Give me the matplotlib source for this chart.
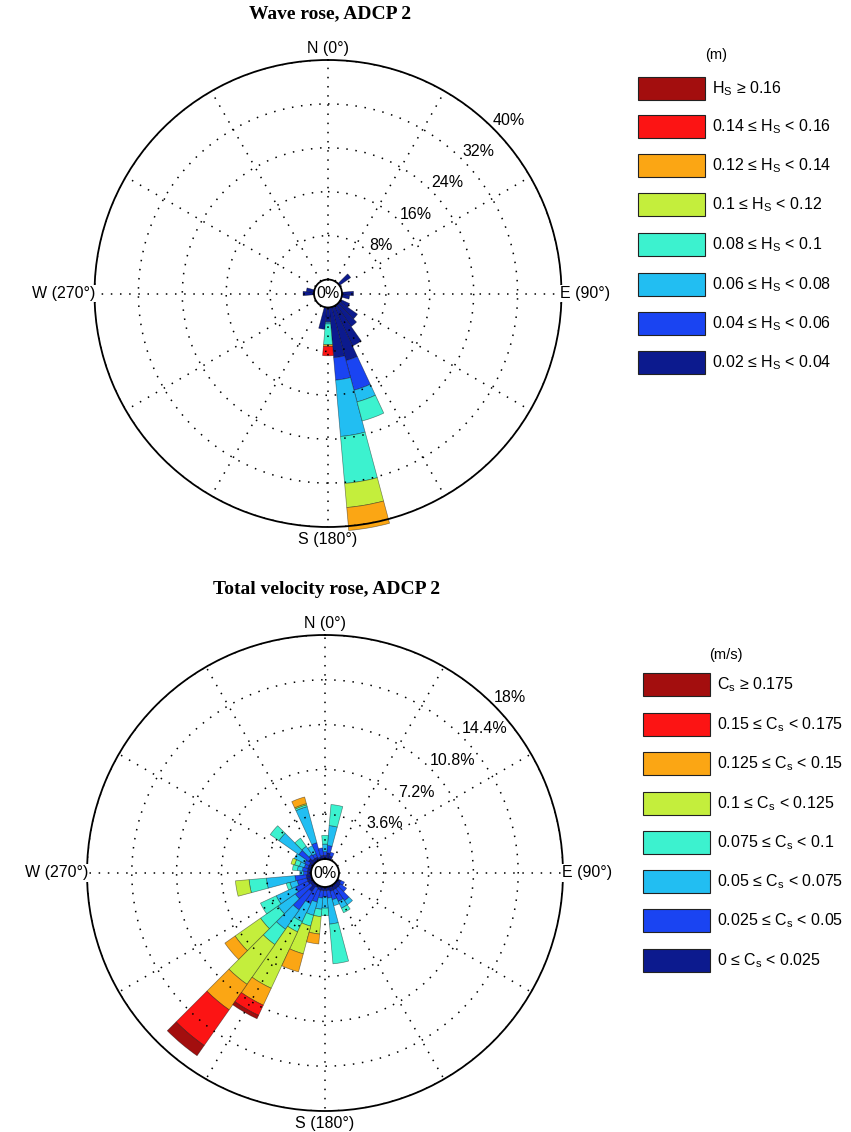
import matplotlib.pyplot as plt
from matplotlib.patches import Rectangle
import numpy as np

plt.rcParams['font.family'] = ['Liberation Sans', 'DejaVu Sans']
plt.rcParams['mathtext.fontset'] = 'custom'
plt.rcParams['mathtext.rm'] = 'Liberation Sans'

# class colours, lowest class first
colors = ['#0C1A8E', '#1A44F2', '#22BEF2', '#3CF2CF',
          '#C4EE3C', '#FBA614', '#FC1414', '#A30E0E']

# ---- wave rose, ADCP 2 : % of records per 10 deg sector and Hs class (m)
wave_dir = [50, 90, 100, 120, 130, 140, 150, 160, 170, 180, 190, 270, 280]
hs_002_004 = [2.5, 2.1, 1.4, 1.8, 4.0, 4.8, 8.0, 10.1, 9.2, 2.6, 4.0, 2.0, 1.4]
hs_004_006 = [0, 0, 0, 0, 0, 0, 0, 5.6, 4.1, 0.1, 0, 0, 0]
hs_006_008 = [0, 0, 0, 0, 0, 0, 0, 2.2, 10.3, 0.3, 0, 0, 0]
hs_008_010 = [0, 0, 0, 0, 0, 0, 0, 3.6, 8.6, 3.8, 0, 0, 0]
hs_010_012 = [0, 0, 0, 0, 0, 0, 0, 0, 4.4, 0, 0, 0, 0]
hs_012_014 = [0, 0, 0, 0, 0, 0, 0, 0, 4.2, 0.3, 0, 0, 0]
hs_014_016 = [0, 0, 0, 0, 0, 0, 0, 0, 0, 1.7, 0, 0, 0]
hs_016_up = [0, 0, 0, 0, 0, 0, 0, 0, 0, 0, 0, 0, 0]
wave_rings = [8, 16, 24, 32, 40]
wave_labels = [r'H$_\mathrm{S}$ ≥ 0.16', r'0.14 ≤ H$_\mathrm{S}$ < 0.16',
               r'0.12 ≤ H$_\mathrm{S}$ < 0.14', r'0.1 ≤ H$_\mathrm{S}$ < 0.12',
               r'0.08 ≤ H$_\mathrm{S}$ < 0.1', r'0.06 ≤ H$_\mathrm{S}$ < 0.08',
               r'0.04 ≤ H$_\mathrm{S}$ < 0.06', r'0.02 ≤ H$_\mathrm{S}$ < 0.04']

# ---- total velocity rose, ADCP 2 : % per 10 deg sector and speed class (m/s)
vel_dir = [0, 10, 20, 120, 130, 140, 150, 160, 170, 180, 190, 200, 210, 220,
           230, 240, 250, 260, 270, 280, 290, 300, 310, 320, 330, 340, 350]
cs_0000_0025 = [0.3, 0.5, 0.3, 0.3, 0.4, 0.4, 0.4, 0.4, 0.3, 0.3, 0.3, 0.3, 0.2, 0.7,
                0.3, 0.4, 0.4, 0.4, 0.3, 0.3, 0.3, 0.3, 0.5, 0.3, 0.3, 0.2, 0.3]
cs_0025_0050 = [0.3, 0.6, 0.3, 0.3, 0.6, 1.2, 1.0, 0.7, 0.6, 0.5, 0.6, 1.0, 1.4, 1.8,
                1.5, 1.1, 0.8, 0.9, 0.3, 0.4, 0.3, 0.4, 0.95, 0.4, 0.3, 1.2, 0.6]
cs_0050_0075 = [0.6, 1.6, 0, 0, 0, 0.4, 0.6, 0.5, 2.1, 0.9, 0.9, 1.1, 1.6, 1.9,
                1.7, 1.7, 0.6, 2.3, 0.3, 0.4, 0.4, 0.9, 1.95, 0.8, 0.7, 3.0, 0]
cs_0075_0100 = [0.7, 1.7, 0, 0, 0, 0, 0.4, 0, 3.2, 0.6, 0.6, 0.9, 0.9, 1.5,
                1.7, 1.4, 0.3, 1.4, 0, 0.4, 0.4, 0, 0.85, 0.8, 0, 0.15, 0]
cs_0100_0125 = [0, 0, 0, 0, 0, 0, 0, 0, 0, 0, 1.4, 2.3, 5.0, 3.9,
                2.5, 0, 0, 1.1, 0, 0, 0.3, 0, 0, 0, 0, 0.1, 0]
cs_0125_0150 = [0, 0, 0, 0, 0, 0, 0, 0, 0, 0, 0.8, 1.5, 1.5, 2.5,
                1.0, 0, 0, 0, 0, 0, 0, 0, 0, 0, 0, 0.55, 0]
cs_0150_0175 = [0, 0, 0, 0, 0, 0, 0, 0, 0, 0, 0, 0, 0.9, 3.5,
                0, 0, 0, 0, 0, 0, 0, 0, 0, 0, 0, 0, 0]
cs_0175_up = [0, 0, 0, 0, 0, 0, 0, 0, 0, 0, 0, 0, 0.3, 1.0,
              0, 0, 0, 0, 0, 0, 0, 0, 0, 0, 0, 0, 0]
vel_rings = [3.6, 7.2, 10.8, 14.4, 18]
vel_labels = [r'C$_\mathrm{s}$ ≥ 0.175', r'0.15 ≤ C$_\mathrm{s}$ < 0.175',
              r'0.125 ≤ C$_\mathrm{s}$ < 0.15', r'0.1 ≤ C$_\mathrm{s}$ < 0.125',
              r'0.075 ≤ C$_\mathrm{s}$ < 0.1', r'0.05 ≤ C$_\mathrm{s}$ < 0.075',
              r'0.025 ≤ C$_\mathrm{s}$ < 0.05', r'0 ≤ C$_\mathrm{s}$ < 0.025']

W, H = 851, 1132
HOLE = 14  # radius of the centre "0%" circle in pixels

fig = plt.figure(figsize=(W / 100, H / 100), dpi=100)
ov = fig.add_axes([0, 0, 1, 1], zorder=5)
ov.set_xlim(0, W)
ov.set_ylim(H, 0)
ov.axis('off')


def rose(cx, cy, R, dirs, classes, rings, title, title_y):
    ax = fig.add_axes([(cx - R) / W, (H - cy - R) / H, 2 * R / W, 2 * R / H],
                      projection='polar')
    ax.set_theta_zero_location('N')
    ax.set_theta_direction(-1)
    rmax = rings[-1]
    theta = np.radians(dirs)
    base = np.zeros(len(dirs))
    for vals, col in zip(classes, colors):
        vals = np.asarray(vals, float)
        m = vals > 0
        ax.bar(theta[m], vals[m], width=np.radians(10), bottom=base[m],
               color=col, edgecolor=(0, 0, 0, 0.45), linewidth=0.5,
               clip_on=False, zorder=1)
        base += vals
    ax.set_ylim(0, rmax)
    ax.set_rorigin(-rmax * HOLE / (R - HOLE))
    ax.set_xticks(np.radians(np.arange(0, 360, 30)))
    ax.set_xticklabels([])
    ax.set_yticks(rings)
    ax.set_yticklabels([])
    ax.tick_params(length=0)
    ax.set_axisbelow(False)
    ax.grid(True, color='k', linestyle=(0, (1, 5)), linewidth=1.1)
    ax.spines['polar'].set_linewidth(1.3)
    ax.spines['inner'].set_linewidth(1.3)
    for r in rings:
        ax.text(np.radians(45), r, f'{r:g}%', ha='left', va='bottom',
                fontsize=11.5, zorder=6)
    ax.text(0.5, 0.5, '0%', transform=ax.transAxes, ha='center', va='center',
            fontsize=11.5, zorder=6)

    box = dict(facecolor='white', edgecolor='none', pad=1)
    ov.text(cx, cy - R - 4, 'N (0°)', ha='center', va='bottom', fontsize=11.5)
    ov.text(cx, cy + R + 5, 'S (180°)', ha='center', va='top', fontsize=11.5)
    ov.text(cx - R + 1, cy, 'W (270°)', ha='right', va='center',
            fontsize=11.5, bbox=box)
    ov.text(cx + R - 1, cy, 'E (90°)', ha='left', va='center',
            fontsize=11.5, bbox=box)
    ov.text(cx + 2, title_y, title, ha='center', va='center', fontsize=14,
            fontweight='bold', family='Liberation Serif')
    return ax


def legend(x, tops, labels, unit, unit_x, unit_y, tx):
    for top, lab, col in zip(tops, labels, colors[::-1]):
        ov.add_patch(Rectangle((x, top), 67, 23, facecolor=col,
                               edgecolor='#222222', linewidth=0.8))
        ov.text(tx, top + 11.5, lab, ha='left', va='center', fontsize=11.5)
    ov.text(unit_x, unit_y, unit, ha='center', va='center', fontsize=10.5)


rose(328, 293.5, 233.5, wave_dir,
     [hs_002_004, hs_004_006, hs_006_008, hs_008_010,
      hs_010_012, hs_012_014, hs_014_016, hs_016_up],
     wave_rings, 'Wave rose, ADCP 2', 14)
rose(325, 873, 238, vel_dir,
     [cs_0000_0025, cs_0025_0050, cs_0050_0075, cs_0075_0100,
      cs_0100_0125, cs_0125_0150, cs_0150_0175, cs_0175_up],
     vel_rings, 'Total velocity rose, ADCP 2', 589)

legend(638, [77, 115, 154, 193, 233, 273, 312, 351], wave_labels,
       '(m)', 716, 55, 712)
legend(643, [673, 713, 752, 792, 831, 870, 909, 949], vel_labels,
       '(m/s)', 726, 655, 717)

fig.savefig('out.png', dpi=100, facecolor='white')
